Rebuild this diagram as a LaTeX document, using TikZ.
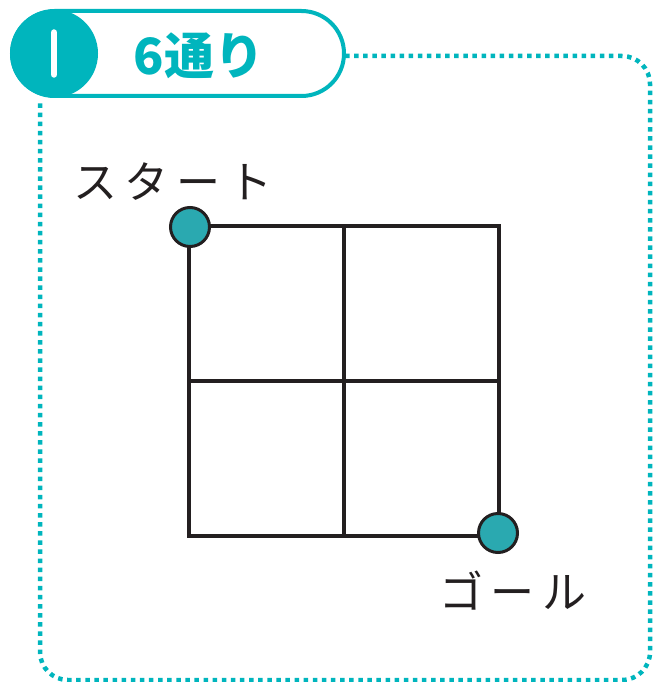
\documentclass[tikz,border=0pt]{standalone}
\usepackage{fontspec}
\newfontfamily\jp{Noto Sans CJK JP}
\newfontfamily\jpsp[LetterSpace=18]{Noto Sans CJK JP}
\definecolor{teal1}{HTML}{00B5BD}
\definecolor{teal2}{HTML}{2AA9B0}
\definecolor{ink}{HTML}{231F20}
\begin{document}
\begin{tikzpicture}[x=1pt,y=-1pt,
  gridline/.style={draw=ink,line width=4pt},
  dotline/.style={draw=teal1,line width=4.5pt,dash pattern=on 4.5pt off 4.6pt},
  endpt/.style={circle,fill=teal2,draw=ink,line width=3pt,minimum size=39pt,inner sep=0pt},
  lbl/.style={text=ink,inner sep=0pt,font=\jpsp\fontsize{44}{50}\selectfont}]
\useasboundingbox (0,0) rectangle (653,682);
% dotted frame
\draw[dotline,rounded corners=28pt] (345,56) -- (650,56) -- (650,680) -- (40,680) -- (40,101);
% header pill
\draw[teal1,line width=4pt,fill=white,rounded corners=42.5pt] (12,11) rectangle (344,96);
\node[circle,fill=teal1,minimum size=88pt,inner sep=0pt] (num) at (54,53.5) {};
\draw[white,line width=6.5pt,line cap=round] (num.center) ++(0,-21) -- ++(0,42);
\node[text=teal1,font=\jp\bfseries\fontsize{50}{56}\selectfont,inner sep=0pt] (title) at (199,56) {6通り};
% grid
\draw[gridline] (189,226) rectangle (499,536);
\draw[gridline] (344,226) -- (344,536);
\draw[gridline] (189,381) -- (499,381);
% endpoints
\node[endpt] (start) at (190,227) {};
\node[endpt] (goal) at (498,533) {};
\node[lbl] (startlbl) at (173,182) {スタート};
\node[lbl] (goallbl) at (513,591) {ゴール};
\end{tikzpicture}
\end{document}
